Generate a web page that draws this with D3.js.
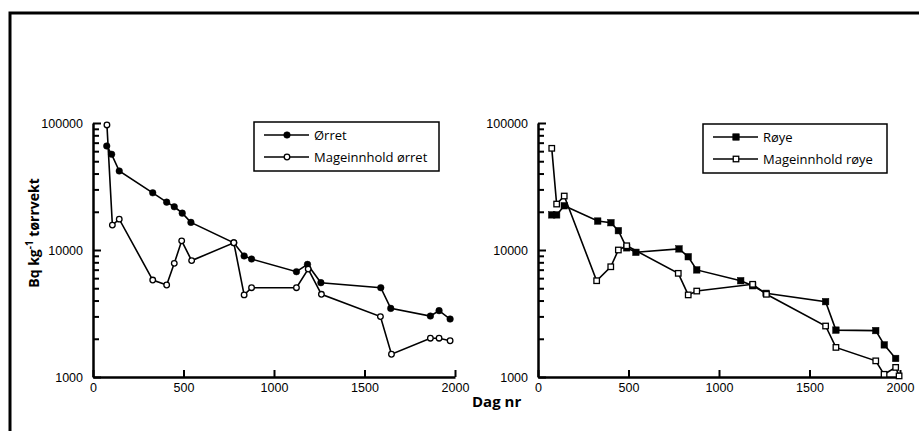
<!DOCTYPE html>
<html>
<head>
<meta charset="utf-8">
<script src="https://cdn.jsdelivr.net/npm/d3@7"></script>
<style>
  body { margin: 0; background: #fff; }
  svg { display: block; }
  .tick text { font-family: "Liberation Sans", Arial, sans-serif; font-size: 12.5px; fill: #000; }
</style>
</head>
<body>
<div id="chart"></div>
<script>
// Ørret (trout) – whole fish and stomach content
var orretDays = [76, 103, 145, 330, 407, 449, 493, 541, 778, 835, 876, 1124, 1185, 1259, 1590, 1645, 1864, 1912, 1973];
var orretVals = [65900, 56700, 41900, 28200, 23800, 21900, 19500, 16500, 11400, 8980, 8490, 6750, 7700, 5530, 5050, 3470, 3020, 3330, 2860];
var mageOrretDays = [77, 107, 145, 330, 407, 449, 490, 545, 778, 835, 876, 1124, 1189, 1262, 1588, 1649, 1864, 1912, 1973];
var mageOrretVals = [96500, 15700, 17500, 5800, 5300, 7850, 11800, 8250, 11400, 4430, 5050, 5050, 7080, 4480, 2990, 1510, 2020, 2020, 1930];

// Røye (char) – whole fish and stomach content
var royeDays = [76, 103, 145, 330, 403, 444, 490, 541, 779, 830, 877, 1120, 1186, 1260, 1589, 1646, 1866, 1913, 1976];
var royeVals = [18900, 18900, 22300, 16900, 16400, 14200, 10400, 9590, 10200, 8850, 6970, 5730, 5230, 4560, 3920, 2340, 2320, 1790, 1400];
var mageRoyeDays = [76, 103, 145, 324, 402, 444, 490, 775, 830, 877, 1186, 1262, 1589, 1646, 1866, 1912, 1976, 1995];
var mageRoyeVals = [63200, 23000, 26600, 5730, 7380, 10000, 10800, 6550, 4430, 4750, 5370, 4480, 2520, 1710, 1340, 1050, 1190, 1020];

var yTickLabels = [1000, 10000, 100000];
var xTickLabels = [0, 500, 1000, 1500, 2000];

var width = 919, height = 431;

var svg = d3.select("#chart").append("svg")
    .attr("width", width)
    .attr("height", height);

// outer frame (runs off the right and bottom edge)
svg.append("rect")
    .attr("x", 10).attr("y", 13)
    .attr("width", 930).attr("height", 440)
    .attr("fill", "none")
    .attr("stroke", "#000")
    .attr("stroke-width", 3);

function makePanel(opts) {
  var x = d3.scaleLinear().domain([0, 2000]).range([opts.x0, opts.x1]);
  var y = d3.scaleLog().domain([1000, 100000]).range([377, 123]);

  var g = svg.append("g");

  // minor log ticks
  var minor = [];
  [1000, 10000].forEach(function(d) {
    for (var k = 2; k <= 9; k++) minor.push(d * k);
  });
  var minorAx = g.append("g")
      .attr("transform", "translate(" + opts.x0 + ",0)")
      .call(d3.axisLeft(y).tickValues(minor).tickSize(-6).tickFormat(""));
  minorAx.select(".domain").remove();
  minorAx.selectAll("line").attr("stroke-width", 2);

  var yAx = g.append("g")
      .attr("transform", "translate(" + opts.x0 + ",0)")
      .call(d3.axisLeft(y).tickValues(yTickLabels).tickSizeInner(-8).tickSizeOuter(0)
        .tickPadding(10).tickFormat(d3.format("d")));
  yAx.select(".domain").attr("stroke-width", 2.5);
  yAx.selectAll("line").attr("stroke-width", 2);

  var xAx = g.append("g")
      .attr("transform", "translate(0,377)")
      .call(d3.axisBottom(x).tickValues(xTickLabels).tickSizeInner(-7).tickSizeOuter(0)
        .tickPadding(6).tickFormat(d3.format("d")));
  xAx.select(".domain").attr("stroke-width", 2.5);
  xAx.selectAll("line").attr("stroke-width", 2);

  var line = d3.line()
      .x(function(d) { return x(d[0]); })
      .y(function(d) { return y(d[1]); });

  opts.series.forEach(function(s) {
    var pts = d3.zip(s.days, s.vals);
    g.append("path")
        .datum(pts)
        .attr("d", line)
        .attr("fill", "none")
        .attr("stroke", "#000")
        .attr("stroke-width", 1.6);
    drawMarkers(g, pts.map(function(p) { return [x(p[0]), y(p[1])]; }), s.shape, s.filled);
  });

  // legend
  var lg = g.append("g");
  lg.append("rect")
      .attr("x", opts.legend.x).attr("y", opts.legend.y)
      .attr("width", opts.legend.w).attr("height", opts.legend.h)
      .attr("fill", "#fff").attr("stroke", "#000").attr("stroke-width", 1.5);
  opts.series.forEach(function(s, i) {
    var ly = opts.legend.y + 13 + i * 22;
    var lx = opts.legend.x + 10;
    lg.append("line")
        .attr("x1", lx).attr("x2", lx + 45)
        .attr("y1", ly).attr("y2", ly)
        .attr("stroke", "#000").attr("stroke-width", 1.3);
    drawMarkers(lg, [[lx + 23, ly]], s.shape, s.filled);
    lg.append("text")
        .attr("x", lx + 50).attr("y", ly + 4.5)
        .style("font-family", "'Open Sans', sans-serif")
        .style("font-size", "13px")
        .text(s.name);
  });
}

function drawMarkers(g, pts, shape, filled) {
  if (shape === "circle") {
    g.selectAll(null).data(pts).enter().append("circle")
        .attr("cx", function(d) { return d[0]; })
        .attr("cy", function(d) { return d[1]; })
        .attr("r", filled ? 3.3 : 2.8)
        .attr("fill", filled ? "#000" : "#fff")
        .attr("stroke", "#000")
        .attr("stroke-width", filled ? 0.5 : 1.3);
  } else {
    var s = filled ? 6.5 : 5.5;
    g.selectAll(null).data(pts).enter().append("rect")
        .attr("x", function(d) { return d[0] - s / 2; })
        .attr("y", function(d) { return d[1] - s / 2; })
        .attr("width", s).attr("height", s)
        .attr("fill", filled ? "#000" : "#fff")
        .attr("stroke", "#000")
        .attr("stroke-width", filled ? 0.5 : 1.3);
  }
}

makePanel({
  x0: 93, x1: 455,
  legend: { x: 254, y: 122, w: 185, h: 49 },
  series: [
    { name: "Ørret", days: orretDays, vals: orretVals, shape: "circle", filled: true },
    { name: "Mageinnhold ørret", days: mageOrretDays, vals: mageOrretVals, shape: "circle", filled: false }
  ]
});

makePanel({
  x0: 538, x1: 900,
  legend: { x: 703, y: 124, w: 184, h: 49 },
  series: [
    { name: "Røye", days: royeDays, vals: royeVals, shape: "square", filled: true },
    { name: "Mageinnhold røye", days: mageRoyeDays, vals: mageRoyeVals, shape: "square", filled: false }
  ]
});

// axis titles
var yTitle = svg.append("text")
    .attr("transform", "translate(39,233) rotate(-90)")
    .attr("text-anchor", "middle")
    .style("font-family", "'Open Sans', sans-serif")
    .style("font-weight", "bold")
    .style("font-size", "14px");
yTitle.append("tspan").text("Bq kg");
yTitle.append("tspan").attr("dy", -6).style("font-size", "10px").text("-1");
yTitle.append("tspan").attr("dy", 6).text(" tørrvekt");

svg.append("text")
    .attr("x", 472).attr("y", 407)
    .style("font-family", "'Open Sans', sans-serif")
    .style("font-weight", "bold")
    .style("font-size", "15px")
    .text("Dag nr");
</script>
</body>
</html>
